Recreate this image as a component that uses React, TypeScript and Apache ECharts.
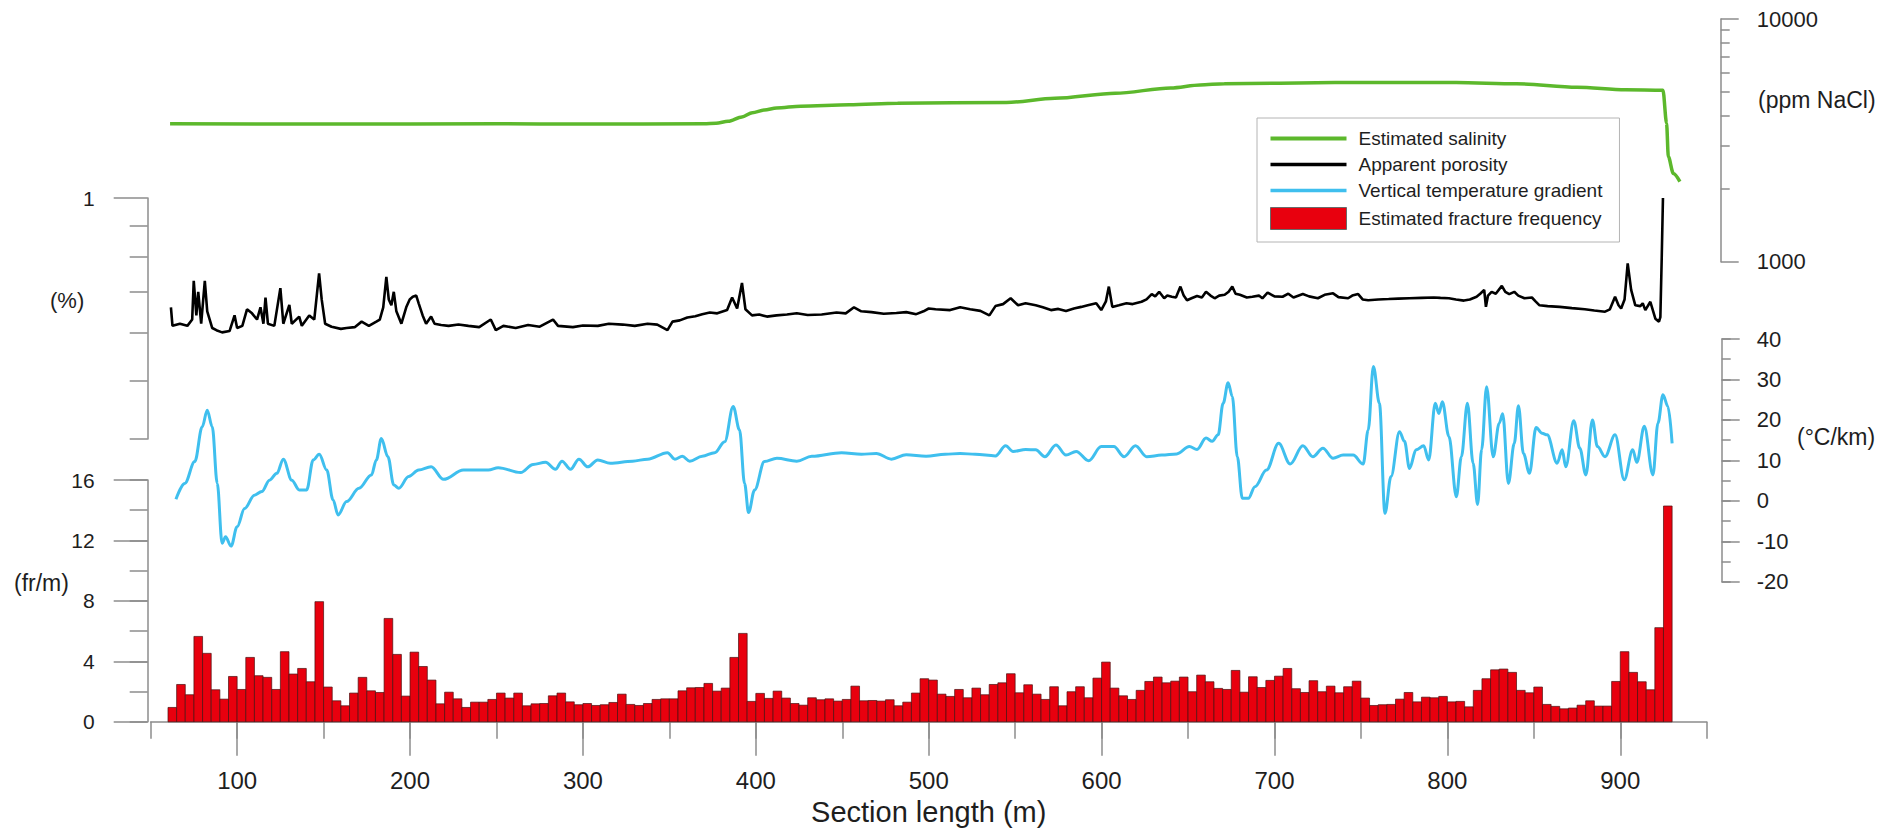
import { useEffect, useRef } from 'react';
import * as echarts from 'echarts';

// ---------- data ----------
const X_MIN = 50;
const X_MAX = 950;
const X_LABEL_TICKS = [100, 200, 300, 400, 500, 600, 700, 800, 900];

const SALINITY_X = [61.2, 150, 250, 300, 370, 377, 384, 392, 398, 405, 412, 426, 454, 482, 545, 573, 608, 640, 657, 671, 735, 805, 840, 875, 903, 924.7, 926.8, 927.8, 930.7, 934.5];
const SALINITY_PPM = [3700, 3690, 3700, 3690, 3700, 3720, 3790, 3950, 4110, 4220, 4300, 4375, 4430, 4500, 4530, 4710, 4940, 5200, 5350, 5410, 5470, 5470, 5410, 5230, 5110, 5090, 3715, 2710, 2310, 2140];
const SALINITY_MINOR_TICKS = [2000, 3000, 4000, 5000, 6000, 7000, 8000, 9000];
const SALINITY_LABEL_TICKS = [1000, 10000];

const POROSITY_X = [61.7, 62.6, 66.9, 71.2, 74, 74.9, 76.4, 77.5, 79.2, 81.3, 82.7, 85.6, 88, 91.3, 95.6, 98.5, 100, 103, 105.7, 108.6, 111.5, 113.5, 115.2, 116.4, 117.8, 121.5, 125, 126.7, 130.2, 131.6, 135.9, 137.4, 141.7, 144.6, 147.4, 148.9, 150.9, 154.6, 160, 163.3, 168, 172, 176.2, 180.5, 182.5, 184.5, 186.3, 187.7, 189.2, 190.6, 192.1, 195, 197.8, 199.8, 201.6, 203.6, 205, 207.3, 209.3, 212.2, 214.2, 218, 222.3, 228, 233.8, 240, 246.7, 249.6, 254, 261.1, 268.3, 275, 282.7, 285.6, 294.2, 300, 308.6, 315, 323, 330, 337.4, 343, 348.9, 351.8, 356, 360.4, 365, 369, 373.4, 377.7, 383.4, 386.3, 389.2, 392, 394, 397.8, 402, 406.4, 412, 418, 423.7, 430, 438.1, 446.7, 452, 456.8, 461, 466.9, 474, 481.3, 487, 492.8, 497, 500, 504, 512.4, 518.2, 524, 529.9, 535.1, 538.6, 543, 547.4, 551.7, 556, 561.9, 566, 570.7, 575, 579.4, 584, 588.2, 592, 596.9, 599.8, 602.5, 604.2, 606.2, 610, 614.4, 618, 623.1, 626, 629, 631, 633.3, 636.2, 638, 640.6, 643, 645.6, 647.5, 649.4, 652, 655.2, 658, 660.4, 663, 665.4, 668, 671.2, 673.5, 675.6, 677.5, 680, 684, 687.2, 691, 693, 696, 700, 704.7, 708, 711, 716.4, 720, 725.1, 729, 733.9, 737, 742.6, 745, 748.4, 751, 754.2, 760, 766, 771.7, 778, 785, 792.1, 796, 800.9, 805, 809.6, 813, 816.9, 819, 821.3, 822.3, 823.5, 825.6, 828, 831.5, 833.5, 835.8, 838.7, 841, 844.6, 848.9, 851, 853.3, 858, 865, 872, 879.5, 885, 891.2, 894, 897, 899, 900.5, 902.5, 904.3, 906.3, 908.7, 911.6, 913, 914.5, 917.4, 920.3, 922.4, 923.2, 924, 924.7];
const POROSITY = [0.66, 0.615, 0.62, 0.615, 0.63, 0.73, 0.64, 0.70, 0.62, 0.73, 0.65, 0.61, 0.605, 0.60, 0.603, 0.64, 0.61, 0.615, 0.655, 0.645, 0.63, 0.66, 0.62, 0.685, 0.62, 0.615, 0.71, 0.62, 0.666, 0.62, 0.637, 0.615, 0.64, 0.63, 0.751, 0.68, 0.62, 0.613, 0.608, 0.61, 0.612, 0.625, 0.615, 0.625, 0.63, 0.66, 0.741, 0.68, 0.665, 0.70, 0.65, 0.62, 0.66, 0.68, 0.687, 0.69, 0.67, 0.64, 0.62, 0.637, 0.62, 0.617, 0.615, 0.618, 0.615, 0.612, 0.63, 0.605, 0.615, 0.61, 0.617, 0.613, 0.63, 0.615, 0.612, 0.616, 0.615, 0.62, 0.618, 0.615, 0.62, 0.618, 0.605, 0.625, 0.628, 0.635, 0.638, 0.643, 0.647, 0.645, 0.653, 0.685, 0.657, 0.724, 0.655, 0.64, 0.642, 0.637, 0.64, 0.642, 0.645, 0.641, 0.642, 0.647, 0.645, 0.66, 0.65, 0.648, 0.644, 0.646, 0.648, 0.643, 0.65, 0.657, 0.655, 0.653, 0.66, 0.655, 0.651, 0.64, 0.663, 0.668, 0.683, 0.665, 0.67, 0.665, 0.66, 0.653, 0.656, 0.651, 0.657, 0.661, 0.665, 0.670, 0.653, 0.675, 0.714, 0.661, 0.665, 0.670, 0.668, 0.674, 0.68, 0.694, 0.688, 0.70, 0.683, 0.69, 0.687, 0.685, 0.714, 0.69, 0.678, 0.683, 0.689, 0.685, 0.70, 0.69, 0.683, 0.69, 0.692, 0.70, 0.714, 0.695, 0.692, 0.685, 0.687, 0.69, 0.683, 0.698, 0.688, 0.687, 0.695, 0.685, 0.694, 0.688, 0.683, 0.692, 0.696, 0.686, 0.683, 0.69, 0.694, 0.68, 0.678, 0.68, 0.681, 0.682, 0.683, 0.684, 0.685, 0.684, 0.683, 0.68, 0.677, 0.68, 0.687, 0.695, 0.705, 0.661, 0.69, 0.70, 0.695, 0.716, 0.70, 0.694, 0.70, 0.69, 0.683, 0.685, 0.675, 0.665, 0.663, 0.661, 0.658, 0.655, 0.652, 0.649, 0.655, 0.687, 0.665, 0.657, 0.68, 0.78, 0.705, 0.665, 0.663, 0.67, 0.653, 0.674, 0.632, 0.625, 0.636, 0.8, 1.0];
const POROSITY_MINOR_TICKS = [0.4, 0.5, 0.6, 0.7, 0.8, 0.9];
const POROSITY_LABEL_TICKS = [1];

const TEMP_X = [64.6, 69.7, 75.5, 79.8, 82.7, 85.6, 88.5, 91.3, 93.3, 96.5, 100, 104.3, 110, 114.3, 118.7, 123, 126.7, 131.6, 135.9, 140.2, 144, 147.5, 151.8, 155.5, 158.4, 163.3, 170.5, 177.7, 180.5, 183.4, 187.2, 190.6, 193.5, 199.2, 205, 212.2, 219.4, 230.9, 245.3, 251, 264, 271.2, 278.4, 284.1, 287.9, 292.8, 297.7, 302.8, 308.6, 315.8, 328.7, 337.4, 348.9, 353.2, 357.5, 361.8, 369, 376.2, 382, 386.9, 390.6, 393.5, 395.8, 399.3, 405, 412.2, 423.7, 432.4, 449.6, 461.1, 469.7, 478.4, 487, 498.5, 509.5, 518.2, 527, 538.6, 544.5, 548.8, 556.1, 561.9, 567.2, 573.6, 579.4, 585.3, 592.5, 599.8, 607.1, 613, 619.6, 626.1, 634.8, 643.5, 650.8, 655.2, 660.4, 664, 667.4, 670.3, 673.2, 675.6, 678.5, 681.4, 684.9, 688.7, 695.4, 702.4, 709.1, 716.4, 722.2, 728, 733.9, 739.7, 745.5, 751.3, 754.2, 757.2, 760.7, 763.9, 767.4, 772.3, 775.2, 778.1, 781.9, 786.3, 789.2, 793, 795.1, 797.1, 800.9, 805.2, 808.1, 811.6, 814.9, 817.5, 819.8, 822.7, 826.5, 830, 832, 835.3, 838.7, 841.1, 844, 847.5, 851.3, 854.8, 857.7, 863.5, 866.4, 868.5, 873.1, 876.6, 880.1, 883.9, 886.8, 891.2, 897, 902.3, 907.2, 909.6, 913.9, 918.9, 921.8, 924.7, 927.6, 930];
const TEMP_GRAD = [0.4, 4.3, 9.7, 18.3, 22.4, 18.3, 4.3, -10.5, -8.9, -11.2, -6.4, -1.9, 1.4, 2.3, 5.1, 6.8, 10.3, 5.1, 2.7, 2.7, 10.1, 11.5, 7.6, 0.2, -3.5, -0.2, 3.1, 6.4, 10.1, 15.4, 10.9, 3.9, 3.1, 6.0, 7.6, 8.4, 5.3, 7.6, 7.6, 8.2, 7.0, 9.0, 9.5, 7.8, 9.8, 7.8, 10.3, 8.4, 10.1, 9.3, 9.8, 10.3, 11.9, 10.3, 11.0, 9.8, 11.0, 11.9, 14.6, 23.3, 17.5, 4.3, -2.9, 2.7, 9.7, 10.5, 9.8, 11.0, 11.9, 11.5, 11.7, 10.3, 11.4, 11.0, 11.5, 11.7, 11.5, 11.1, 13.6, 12.2, 12.7, 12.6, 10.9, 13.8, 11.3, 12.2, 9.9, 13.4, 13.4, 10.9, 13.6, 10.9, 11.3, 11.6, 13.4, 12.7, 15.5, 14.7, 16.3, 24.1, 29.2, 25.8, 10.9, 0.6, 0.6, 3.5, 7.6, 14.2, 9.1, 13.6, 10.9, 13.0, 10.5, 11.3, 11.3, 9.1, 17.5, 33.2, 24.1, -3.1, 6.0, 17.1, 14.7, 8.0, 12.6, 13.6, 10.1, 24.1, 21.6, 24.5, 15.9, 1.0, 10.9, 24.1, 9.3, -0.9, 12.6, 28.2, 10.9, 19.2, 21.5, 4.3, 14.2, 23.5, 11.7, 6.8, 18.1, 16.7, 16.3, 9.3, 12.6, 8.4, 19.8, 13.0, 6.4, 20.0, 13.4, 10.9, 16.3, 5.2, 12.6, 9.5, 18.4, 6.4, 19.2, 26.2, 23.3, 14.2];

const FRACTURE_BIN_START = 60;
const FRACTURE_BIN_WIDTH = 5;
const FRACTURE_FREQ = [
  0.95, 2.47, 1.79, 5.65, 4.53, 2.12, 1.5, 3.0, 2.14, 4.26,
  3.05, 2.94, 2.14, 4.64, 3.16, 3.53, 2.65, 7.95, 2.3, 1.39,
  1.06, 1.9, 2.94, 2.05, 1.94, 6.84, 4.46, 1.7, 4.61, 3.66,
  2.76, 1.19, 1.96, 1.52, 0.95, 1.3, 1.3, 1.48, 1.9, 1.57,
  1.9, 1.06, 1.19, 1.21, 1.72, 1.9, 1.32, 1.13, 1.21, 1.08,
  1.13, 1.28, 1.83, 1.15, 1.08, 1.21, 1.48, 1.52, 1.52, 2.05,
  2.25, 2.27, 2.54, 2.03, 2.23, 4.26, 5.85, 1.35, 1.88, 1.55,
  2.03, 1.57, 1.21, 1.1, 1.59, 1.46, 1.52, 1.37, 1.48, 2.36,
  1.39, 1.41, 1.37, 1.46, 1.06, 1.3, 1.9, 2.85,
  2.76, 1.83, 1.68, 2.14, 1.59, 2.23, 1.79, 2.47, 2.58, 3.18,
  1.92, 2.45, 1.83, 1.48, 2.32, 1.06, 1.99, 2.32, 1.59, 2.89,
  3.95, 2.23, 1.72, 1.48, 2.08, 2.67, 2.96, 2.58, 2.69, 2.96,
  1.99, 3.09, 2.65, 2.21, 2.14, 3.4, 1.96, 2.98, 2.27, 2.74,
  3.02, 3.53, 2.19, 1.94, 2.72, 1.99, 2.36, 1.92, 2.32, 2.69,
  1.57, 1.08, 1.13, 1.15, 1.5, 1.94, 1.32, 1.63, 1.59, 1.68,
  1.32, 1.35, 0.99, 2.08, 2.85, 3.44, 3.49, 3.27, 2.08, 1.92,
  2.3, 1.15, 1.02, 0.86, 0.91, 1.1, 1.39, 1.04, 1.04, 2.67,
  4.64, 3.27, 2.65, 2.12, 6.23, 14.28,
];

const SERIES_NAMES = ['Estimated salinity', 'Apparent porosity', 'Vertical temperature gradient', 'Estimated fracture frequency'];

// ---------- styles ----------
const FONT = '"Liberation Sans", Arial, Helvetica, sans-serif';
const AXIS_GRAY = '#8c8c8c';
const TEXT = '#1e1e1e';
const GREEN = '#5cb82c';
const BLUE = '#3fbfee';
const RED = '#e8000e';
const BLACK = '#000000';

const PLOT_LEFT = 150.7;
const PLOT_WIDTH = 1556;

function yAxisBase(gridIndex: number, position: 'left' | 'right', offset: number, min: number, max: number) {
  return {
    type: 'value',
    gridIndex,
    position,
    offset,
    min,
    max,
    splitLine: { show: false },
    axisLine: { show: false, lineStyle: { color: AXIS_GRAY, width: 1.5 } },
    axisTick: { show: true, inside: false, lineStyle: { color: AXIS_GRAY, width: 1.5 } },
    axisLabel: { show: false },
  } as any;
}

export default function App() {
  const ref = useRef<HTMLDivElement>(null);

  useEffect(() => {
    if (!ref.current) return;
    const chart = echarts.init(ref.current, undefined, { renderer: 'svg' });

    const salData = SALINITY_X.map((x, i) => [x, Math.log10(SALINITY_PPM[i])]);
    const porData = POROSITY_X.map((x, i) => [x, Math.log10(POROSITY[i])]);
    const tempData = TEMP_X.map((x, i) => [x, TEMP_GRAD[i]]);
    const fracData = FRACTURE_FREQ.map((v, i) => {
      const s = FRACTURE_BIN_START + i * FRACTURE_BIN_WIDTH;
      return [s, s + FRACTURE_BIN_WIDTH, v];
    });

    const hiddenX = (gridIndex: number) => ({
      type: 'value', gridIndex, min: X_MIN, max: X_MAX, show: false, splitLine: { show: false },
    });

    const labelStyleLeft = { fontSize: 21, color: TEXT, fontFamily: FONT, margin: 53 };
    const labelStyleRight = { fontSize: 22, color: TEXT, fontFamily: FONT, margin: 35 };

    const option: any = {
      animation: false,
      backgroundColor: '#ffffff',
      grid: [
        { left: PLOT_LEFT, width: PLOT_WIDTH, top: 19, height: 242.7 },
        { left: PLOT_LEFT, width: PLOT_WIDTH, top: 198, height: 241 },
        { left: PLOT_LEFT, width: PLOT_WIDTH, top: 339, height: 242.7 },
        { left: PLOT_LEFT, width: PLOT_WIDTH, top: 480, height: 241.8 },
      ],
      xAxis: [
        hiddenX(0),
        hiddenX(1),
        hiddenX(2),
        {
          type: 'value', gridIndex: 3, min: X_MIN, max: X_MAX, interval: 50, position: 'bottom',
          splitLine: { show: false },
          axisLine: { show: true, lineStyle: { color: AXIS_GRAY, width: 1.5 } },
          axisTick: { show: true, length: 17, lineStyle: { color: AXIS_GRAY, width: 1.5 } },
          axisLabel: { show: false },
        },
        {
          type: 'value', gridIndex: 3, min: X_MIN, max: X_MAX, position: 'bottom', offset: 0,
          splitLine: { show: false },
          axisLine: { show: false },
          axisTick: { show: true, length: 34, customValues: X_LABEL_TICKS, lineStyle: { color: AXIS_GRAY, width: 1.5 } },
          axisLabel: { show: true, customValues: X_LABEL_TICKS, fontSize: 24, color: TEXT, fontFamily: FONT, margin: 47 },
          name: 'Section length (m)',
          nameLocation: 'middle',
          nameGap: 76,
          nameTextStyle: { fontSize: 29, color: TEXT, fontFamily: FONT, verticalAlign: 'top' },
        },
      ],
      yAxis: [
        (() => {
          const a = yAxisBase(0, 'right', 14, 3, 4);
          a.axisLine.show = true;
          a.axisTick.customValues = SALINITY_MINOR_TICKS.map(Math.log10);
          a.axisTick.length = 9;
          return a;
        })(),
        (() => {
          const a = yAxisBase(0, 'right', 14, 3, 4);
          a.axisTick.customValues = SALINITY_LABEL_TICKS.map(Math.log10);
          a.axisTick.length = 18;
          a.axisLabel = {
            show: true, ...labelStyleRight, margin: 36,
            customValues: SALINITY_LABEL_TICKS.map(Math.log10),
            formatter: (v: number) => String(Math.round(Math.pow(10, v))),
          };
          return a;
        })(),
        (() => {
          const a = yAxisBase(1, 'left', 3, Math.log10(0.4), 0);
          a.axisLine.show = true;
          a.axisTick.customValues = POROSITY_MINOR_TICKS.map(Math.log10);
          a.axisTick.length = 18;
          return a;
        })(),
        (() => {
          const a = yAxisBase(1, 'left', 3, Math.log10(0.4), 0);
          a.axisTick.customValues = POROSITY_LABEL_TICKS.map(Math.log10);
          a.axisTick.length = 34;
          a.axisLabel = {
            show: true, ...labelStyleLeft,
            customValues: POROSITY_LABEL_TICKS.map(Math.log10),
            formatter: (v: number) => String(Math.round(Math.pow(10, v) * 10) / 10),
          };
          return a;
        })(),
        (() => {
          const a = yAxisBase(2, 'right', 15, -20, 40);
          a.interval = 5;
          a.axisLine.show = true;
          a.axisTick.length = 9;
          return a;
        })(),
        (() => {
          const a = yAxisBase(2, 'right', 15, -20, 40);
          a.interval = 10;
          a.axisTick.length = 18;
          a.axisLabel = { show: true, ...labelStyleRight };
          return a;
        })(),
        (() => {
          const a = yAxisBase(3, 'left', 3, 0, 16);
          a.interval = 2;
          a.axisLine.show = true;
          a.axisTick.length = 18;
          return a;
        })(),
        (() => {
          const a = yAxisBase(3, 'left', 3, 0, 16);
          a.interval = 4;
          a.axisTick.length = 34;
          a.axisLabel = { show: true, ...labelStyleLeft };
          return a;
        })(),
      ],
      legend: {
        show: true,
        orient: 'vertical',
        left: 1257,
        top: 118,
        itemWidth: 76,
        itemHeight: 22,
        itemGap: 7,
        padding: [11, 17, 12, 13],
        borderColor: '#b4b4b4',
        borderWidth: 1,
        backgroundColor: '#ffffff',
        selectedMode: false,
        symbolKeepAspect: true,
        textStyle: { fontSize: 19, color: TEXT, fontFamily: FONT, padding: [0, 0, 0, 7] },
        data: [
          { name: SERIES_NAMES[0], icon: 'path://M0,0H100V5.5H0Z', itemStyle: { color: GREEN, borderWidth: 0 } },
          { name: SERIES_NAMES[1], icon: 'path://M0,0H100V4.5H0Z', itemStyle: { color: BLACK, borderWidth: 0 } },
          { name: SERIES_NAMES[2], icon: 'path://M0,0H100V4.5H0Z', itemStyle: { color: BLUE, borderWidth: 0 } },
          { name: SERIES_NAMES[3], icon: 'rect', itemStyle: { color: RED, borderColor: '#6a6a6a', borderWidth: 1 } },
        ],
      },
      graphic: [
        { type: 'text', left: 1758, top: 88, style: { text: '(ppm NaCl)', fontSize: 23, fill: TEXT, fontFamily: FONT } },
        { type: 'text', left: 1797, top: 425, style: { text: '(°C/km)', fontSize: 23, fill: TEXT, fontFamily: FONT } },
        { type: 'text', left: 50, top: 289, style: { text: '(%)', fontSize: 22, fill: TEXT, fontFamily: FONT } },
        { type: 'text', left: 14, top: 571, style: { text: '(fr/m)', fontSize: 23, fill: TEXT, fontFamily: FONT } },
      ],
      series: [
        {
          name: SERIES_NAMES[0], type: 'line', xAxisIndex: 0, yAxisIndex: 0, data: salData,
          showSymbol: false, symbol: 'none', smooth: 0.3, smoothMonotone: 'x',
          lineStyle: { color: GREEN, width: 3.5 }, itemStyle: { color: GREEN }, z: 3,
        },
        {
          name: SERIES_NAMES[1], type: 'line', xAxisIndex: 1, yAxisIndex: 2, data: porData,
          showSymbol: false, symbol: 'none',
          lineStyle: { color: BLACK, width: 2.6 }, itemStyle: { color: BLACK }, z: 3,
        },
        {
          name: SERIES_NAMES[2], type: 'line', xAxisIndex: 2, yAxisIndex: 4, data: tempData,
          showSymbol: false, symbol: 'none', smooth: 0.35, smoothMonotone: 'x',
          lineStyle: { color: BLUE, width: 3 }, itemStyle: { color: BLUE }, z: 3,
        },
        {
          name: SERIES_NAMES[3], type: 'custom', xAxisIndex: 3, yAxisIndex: 6, data: fracData,
          encode: { x: [0, 1], y: 2 },
          itemStyle: { color: RED, borderColor: '#6a6a6a', borderWidth: 1 },
          renderItem: (params: any, api: any) => {
            const p0 = api.coord([api.value(0), api.value(2)]);
            const p1 = api.coord([api.value(1), 0]);
            return {
              type: 'rect',
              shape: { x: p0[0], y: p0[1], width: p1[0] - p0[0], height: p1[1] - p0[1] },
              style: { fill: RED, stroke: '#4a1010', lineWidth: 0.7 },
            };
          },
          z: 2,
        },
      ],
    };

    chart.setOption(option);
    return () => chart.dispose();
  }, []);

  return (
    <div
      ref={ref}
      style={{ position: 'fixed', left: 0, top: 0, width: 1902, height: 835, background: '#fff' }}
    />
  );
}
